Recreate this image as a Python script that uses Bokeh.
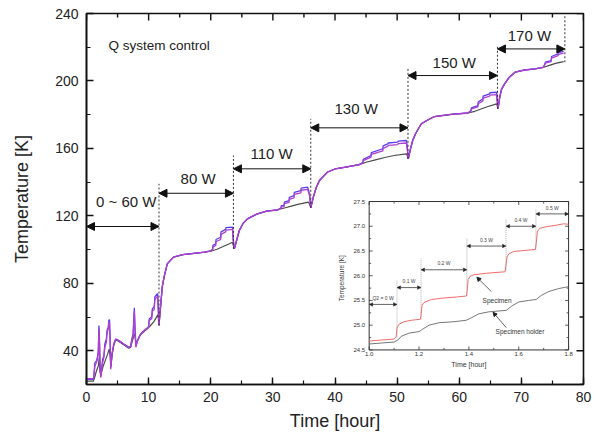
import math
from bokeh.plotting import figure
from bokeh.models import Range1d, Arrow, NormalHead, SingleIntervalTicker
from bokeh.embed import file_html
from bokeh.resources import INLINE
from bokeh.core.properties import value

FONT = "Liberation Sans"

# ---------------- main chart data (hour, K) ----------------
blue_pts = [(0, 23), (1.1, 23), (1.2, 26), (1.35, 33), (1.6, 34), (1.75, 36), (1.9, 40), (2.0, 55), (2.08, 48),
            (2.2, 30), (2.3, 25), (2.45, 30), (2.6, 35), (2.8, 37), (2.95, 44), (3.2, 47), (3.3, 52), (3.5, 54),
            (3.6, 58), (3.7, 58.5), (3.8, 48), (3.9, 30), (4.1, 38), (4.4, 44), (4.7, 47), (5.2, 46), (6.0, 44),
            (6.8, 42), (7.1, 42.5), (7.3, 47), (7.5, 50), (7.6, 58), (7.7, 65.5), (7.8, 55), (7.95, 43), (8.2, 46),
            (8.7, 50), (9.3, 52), (9.8, 53.5), (10.0, 54.5), (10.1, 59), (10.5, 60), (10.6, 65), (10.9, 66),
            (11.0, 72), (11.45, 74), (11.5, 70), (11.67, 56), (11.9, 66), (12.2, 78), (12.5, 84), (13.0, 91.5),
            (14.0, 95.5), (15.5, 97), (17.3, 97.8), (19.0, 98.5), (20.0, 99.2), (20.3, 100.4), (20.35, 102.5),
            (20.8, 103.4), (20.85, 106), (21.6, 107.3), (21.65, 110.5), (22.4, 112), (22.45, 113), (23.5, 113.3),
            (23.6, 107), (23.8, 100.4), (24.2, 106), (24.6, 111.3), (25.2, 115.5), (25.9, 118.2), (27.5, 121.2),
            (29.0, 122.8), (30.8, 123.6), (31.3, 124.8), (31.35, 126), (31.8, 126.1), (31.85, 128.2), (32.6, 129.1),
            (32.65, 131), (33.4, 132), (33.45, 134), (34.5, 135), (34.55, 136.5), (35.6, 137), (35.9, 133),
            (36.1, 124.8), (36.5, 131), (37.0, 137), (37.5, 141), (38.8, 146), (40.0, 147.8), (41.5, 148.8),
            (43.9, 150.4), (44.5, 151.8), (44.55, 153.5), (45.8, 155.8), (45.85, 157.5), (47.7, 159.8),
            (47.75, 161.5), (48.5, 162.7), (48.55, 163.2), (50.1, 163.7), (50.15, 164.3), (51.5, 164.7),
            (51.65, 160), (51.8, 153.8), (52.1, 159), (52.5, 164.7), (53.0, 169), (53.9, 174.6), (55.0, 177),
            (56.0, 178.9), (58.7, 180.2), (61.4, 181), (61.9, 182.5), (61.95, 184), (63.0, 185.4), (63.05, 187.5),
            (63.8, 189.4), (63.85, 191), (64.9, 192.4), (64.95, 193), (66.0, 193.3), (66.1, 189), (66.25, 183.5),
            (66.5, 190), (66.8, 195), (67.3, 198.3), (68.0, 202), (69.0, 205.2), (70.5, 206.5), (72.2, 207.2),
            (73.5, 208), (73.8, 210.2), (73.85, 211.2), (74.8, 212.1), (74.85, 214.5), (75.9, 216.1),
            (75.95, 216.8), (76.8, 217.5)]

purple_pts = [(0, 23.5), (1.1, 23.5), (1.2, 25), (1.35, 31), (1.6, 33), (1.75, 35), (1.9, 38), (2.0, 53), (2.08, 45),
              (2.2, 28), (2.3, 24), (2.45, 29), (2.6, 33), (2.8, 36), (2.95, 42), (3.2, 45), (3.3, 50), (3.5, 53),
              (3.6, 56.5), (3.7, 57), (3.8, 45), (3.9, 29), (4.1, 38), (4.4, 44), (4.7, 47), (5.2, 46), (6.0, 44),
              (6.8, 42), (7.1, 42.5), (7.3, 46), (7.5, 49), (7.6, 56), (7.7, 63.5), (7.8, 52), (7.95, 42), (8.2, 46),
              (8.7, 50), (9.3, 52), (9.8, 53.5), (10.0, 54), (10.1, 58), (10.5, 59), (10.6, 63.5), (10.9, 64.5),
              (11.0, 70.5), (11.45, 72.5), (11.5, 68), (11.67, 55), (11.9, 66), (12.2, 78), (12.5, 84), (13.0, 91.5),
              (14.0, 95.5), (15.5, 97), (17.3, 97.8), (19.0, 98.5), (20.0, 99.2), (20.3, 100), (20.35, 101.5),
              (20.8, 102.4), (20.85, 104.8), (21.6, 106), (21.65, 109), (22.4, 110.5), (22.45, 111.5), (23.5, 112),
              (23.6, 106), (23.8, 100.4), (24.2, 106), (24.6, 111.3), (25.2, 115.5), (25.9, 118.2), (27.5, 121.2),
              (29.0, 122.8), (30.8, 123.6), (31.3, 124.5), (31.35, 125.3), (31.8, 125.5), (31.85, 127.3),
              (32.6, 128), (32.65, 129.8), (33.4, 130.7), (33.45, 132.7), (34.5, 133.6), (34.55, 135.2),
              (35.6, 135.7), (35.9, 132), (36.1, 124.8), (36.5, 131), (37.0, 137), (37.5, 141), (38.8, 146),
              (40.0, 147.8), (41.5, 148.8), (43.9, 150.4), (44.5, 151.5), (44.55, 152.8), (45.8, 154.8),
              (45.85, 156.4), (47.7, 158.5), (47.75, 160), (48.5, 161.2), (48.55, 161.8), (50.1, 162.3),
              (50.15, 162.8), (51.5, 163.2), (51.65, 159), (51.8, 153.8), (52.1, 159), (52.5, 164.7), (53.0, 169),
              (53.9, 174.6), (55.0, 177), (56.0, 178.9), (58.7, 180.2), (61.4, 181), (61.9, 182.2), (61.95, 183.4),
              (63.0, 184.6), (63.05, 186.5), (63.8, 188.2), (63.85, 189.8), (64.9, 191), (64.95, 191.6),
              (66.0, 191.9), (66.1, 188), (66.25, 183.5), (66.5, 190), (66.8, 195), (67.3, 198.3), (68.0, 202),
              (69.0, 205.2), (70.5, 206.5), (72.2, 207.2), (73.5, 208), (73.8, 209.8), (73.85, 210.6),
              (74.8, 211.4), (74.85, 213.5), (75.9, 215), (75.95, 215.8), (76.8, 216.5)]

gray_pts = [(0, 22), (1.1, 22), (1.3, 24), (1.6, 28), (1.9, 31), (2.05, 36), (2.2, 27), (2.4, 27), (2.7, 31),
            (3.0, 34), (3.4, 38), (3.65, 41), (3.8, 37), (3.95, 31), (4.1, 37), (4.4, 43.5), (4.7, 46.5),
            (5.2, 45.5), (6.0, 43.5), (6.8, 41.5), (7.1, 42), (7.4, 46), (7.65, 49), (7.8, 50), (7.95, 44),
            (8.2, 46), (8.7, 49.5), (9.3, 51.5), (9.8, 53), (10.3, 55), (10.8, 57), (11.2, 59.5), (11.5, 61.5),
            (11.67, 55), (11.9, 64), (12.2, 78), (12.5, 84), (13.0, 91.5), (14.0, 95.5), (15.5, 97), (17.3, 97.8),
            (19.0, 98.5), (20.0, 99), (21.0, 100.2), (22.0, 101.8), (23.0, 103.5), (23.5, 104.4), (23.6, 103),
            (23.8, 100.4), (24.2, 106), (24.6, 111.3), (25.2, 115.5), (25.9, 118.2), (27.5, 121.2), (29.0, 122.8),
            (30.8, 123.6), (32.0, 124.8), (33.0, 125.8), (34.0, 126.8), (35.0, 127.6), (35.7, 128.1), (35.9, 127),
            (36.1, 124.8), (36.5, 131), (37.0, 137), (37.5, 141), (38.8, 146), (40.0, 147.8), (41.5, 148.8),
            (43.9, 150.4), (45.0, 151.8), (46.5, 153.2), (48.0, 154.6), (49.5, 155.8), (51.5, 156.8),
            (51.65, 155.5), (51.8, 153.8), (52.1, 159), (52.5, 164.7), (53.0, 169), (53.9, 174.6), (55.0, 177),
            (56.0, 178.9), (58.7, 180.2), (61.4, 181), (62.5, 182), (63.5, 183.4), (64.5, 184.7), (65.5, 185.8),
            (66.0, 186.4), (66.1, 185.5), (66.25, 183.5), (66.5, 190), (66.8, 195), (67.3, 198.3), (68.0, 202),
            (69.0, 205.2), (70.5, 206.5), (72.2, 207.2), (73.5, 208), (74.5, 209.2), (75.5, 210.4), (76.8, 211.5)]

stage_start = [0, 11.67, 23.65, 36.1, 51.75, 66.15]
stage_end = [11.67, 23.65, 36.1, 51.75, 66.15, 77.0]
stage_arrow_y = [113.7, 133.4, 147.9, 172.2, 203.2, 219.0]
stage_labels = ["0 ~ 60 W", "80 W", "110 W", "130 W", "150 W", "170 W"]
stage_label_x = [6.4, 17.96, 29.8, 43.4, 59.2, 71.3]
stage_label_y = [128.5, 142.0, 156.8, 183.5, 211.1, 227.0]
divider_x = [11.67, 23.65, 36.1, 51.75, 66.15, 77.0]
divider_bottom = [55.0, 100.4, 124.8, 153.8, 183.5, 211.1]
divider_top = [139.0, 155.8, 177.5, 207.2, 221.0, 238.8]

x_major_ticks = [0, 10, 20, 30, 40, 50, 60, 70, 80]
x_minor_ticks = [5, 15, 25, 35, 45, 55, 65, 75]
y_major_ticks = [40, 80, 120, 160, 200, 240]
y_minor_ticks = [20, 60, 100, 140, 180, 220]

# ---------------- inset data (hour, K) ----------------
specimen_pts = [(1.0, 24.68), (1.05, 24.70), (1.10, 24.72), (1.108, 24.76), (1.112, 24.95), (1.12, 25.02),
                (1.14, 25.07), (1.17, 25.10), (1.205, 25.12), (1.208, 25.2), (1.212, 25.40), (1.22, 25.46),
                (1.25, 25.52), (1.30, 25.55), (1.35, 25.57), (1.39, 25.59), (1.393, 25.7), (1.397, 25.92),
                (1.405, 25.99), (1.42, 26.02), (1.47, 26.05), (1.545, 26.08), (1.548, 26.18), (1.553, 26.38),
                (1.56, 26.44), (1.58, 26.49), (1.62, 26.51), (1.667, 26.53), (1.67, 26.65), (1.675, 26.9),
                (1.685, 26.96), (1.71, 26.99), (1.75, 27.02), (1.78, 27.05), (1.8, 27.04)]
holder_pts = [(1.0, 24.62), (1.05, 24.64), (1.10, 24.66), (1.115, 24.7), (1.13, 24.78), (1.16, 24.84),
              (1.20, 24.87), (1.215, 24.92), (1.24, 25.0), (1.28, 25.05), (1.34, 25.07), (1.39, 25.1),
              (1.41, 25.15), (1.44, 25.23), (1.48, 25.27), (1.55, 25.3), (1.57, 25.38), (1.6, 25.47),
              (1.64, 25.5), (1.67, 25.52), (1.69, 25.6), (1.72, 25.68), (1.76, 25.74), (1.8, 25.78)]
inset_x_major = [1.0, 1.2, 1.4, 1.6, 1.8]
inset_x_minor = [1.1, 1.3, 1.5, 1.7]
inset_x_labels = ["1.0", "1.2", "1.4", "1.6", "1.8"]
inset_y_major = [24.5, 25.0, 25.5, 26.0, 26.5, 27.0, 27.5]
inset_y_minor = [24.75, 25.25, 25.75, 26.25, 26.75, 27.25]
inset_y_labels = ["24.5", "25.0", "25.5", "26.0", "26.5", "27.0", "27.5"]
q_start = [1.0, 1.1116, 1.208, 1.392, 1.549, 1.669]
q_end = [1.1116, 1.208, 1.392, 1.549, 1.669, 1.8]
q_arrow_y = [25.42, 25.76, 26.12, 26.6, 27.0, 27.25]
q_labels = ["Q2 = 0 W", "0.1 W", "0.2 W", "0.3 W", "0.4 W", "0.5 W"]
q_label_y = [25.55, 25.89, 26.26, 26.73, 27.13, 27.37]
q_div_x = [1.1116, 1.208, 1.392, 1.549, 1.669]
q_div_bottom = [24.75, 25.13, 25.6, 26.1, 26.55]
q_div_top = [25.9, 26.35, 26.76, 27.15, 27.35]

# ---------------- layout ----------------
W, H = 600, 436
BL, BR, BT, BB = 86, 17, 13, 52
FW, FH = W - BL - BR, H - BT - BB
X0, X1, Y0, Y1 = 0, 80, 20, 240
mdx = (X1 - X0) / FW   # main units per pixel
mdy = (Y1 - Y0) / FH

p = figure(width=W, height=H, x_range=Range1d(X0, X1), y_range=Range1d(Y0, Y1),
           output_backend="svg", toolbar_location=None,
           min_border_left=BL, min_border_right=BR, min_border_top=BT, min_border_bottom=BB,
           x_axis_label="Time [hour]", y_axis_label="Temperature [K]")
p.xgrid.visible = False
p.ygrid.visible = False
p.outline_line_color = "#111111"
p.outline_line_width = 1.6
p.background_fill_color = "white"
p.border_fill_color = "white"

bottom_ax = p.below[0]
left_ax = p.left[0]
bottom_ax.ticker = SingleIntervalTicker(interval=10, num_minor_ticks=2)
left_ax.ticker = SingleIntervalTicker(interval=40, num_minor_ticks=2)
for ax in [bottom_ax, left_ax]:
    ax.axis_line_width = 1.6
    ax.axis_line_color = "#111111"
    ax.major_tick_in = 7
    ax.major_tick_out = 0
    ax.minor_tick_in = 4
    ax.minor_tick_out = 0
    ax.major_tick_line_width = 1.4
    ax.minor_tick_line_width = 1.2
    ax.major_tick_line_color = "#111111"
    ax.minor_tick_line_color = "#111111"
    ax.major_label_text_font = FONT
    ax.major_label_text_font_size = "14px"
    ax.major_label_text_color = "#222222"
    ax.axis_label_text_font = FONT
    ax.axis_label_text_font_size = "18px"
    ax.axis_label_text_font_style = "normal"
    ax.axis_label_text_color = "#222222"
bottom_ax.major_label_standoff = 7
bottom_ax.axis_label_standoff = 6
left_ax.major_label_standoff = 8
left_ax.axis_label_standoff = 20

# mirrored inward ticks on the top and right edges
for vals, ln in [(x_major_ticks, 7), (x_minor_ticks, 4)]:
    p.segment(x0=vals, x1=vals, y0=[Y1] * len(vals), y1=[Y1 - ln * mdy] * len(vals),
              line_color="#111111", line_width=1.4)
for vals, ln in [(y_major_ticks, 7), (y_minor_ticks, 4)]:
    p.segment(y0=vals, y1=vals, x0=[X1] * len(vals), x1=[X1 - ln * mdx] * len(vals),
              line_color="#111111", line_width=1.4)

# ---------------- main curves ----------------
def split(pts):
    return [a for a, _ in pts], [b for _, b in pts]

gh, gt = split(gray_pts)
bh, bt = split(blue_pts)
ph, pt = split(purple_pts)
p.line(gh, gt, line_color="#4b4b4b", line_width=1.2)
p.line(bh, bt, line_color="#5a3cf0", line_width=1.3)
p.line(ph, pt, line_color="#b03fcf", line_width=1.3)

p.segment(x0=divider_x, y0=divider_bottom, x1=divider_x, y1=divider_top,
          line_color="#333333", line_width=1, line_dash="2 2")

for xs, xe, yy in zip(stage_start, stage_end, stage_arrow_y):
    p.add_layout(Arrow(x_start=xs, y_start=yy, x_end=xe, y_end=yy, line_width=1, line_color="#111111",
                       start=NormalHead(size=8, fill_color="#111111", line_color="#111111"),
                       end=NormalHead(size=8, fill_color="#111111", line_color="#111111")))

p.text(x=stage_label_x, y=stage_label_y, text=stage_labels, text_font=value(FONT),
       text_font_size=value("15px"), text_align="center", text_baseline="middle", text_color="#222222")
p.text(x=[3.55], y=[221], text=["Q system control"], text_font=value(FONT),
       text_font_size=value("13.5px"), text_align="left", text_baseline="middle", text_color="#222222")

# ---------------- inset (own scales mapped into a box of the main frame) ----------------
BOX_L, BOX_R, BOX_B, BOX_T = 45.5, 77.6, 40.5, 128.5   # inset frame location in main units
IX0, IX1, IY0, IY1 = 1.0, 1.8, 24.5, 27.5
sx = (IX1 - IX0) / (BOX_R - BOX_L)
sy = (IY1 - IY0) / (BOX_T - BOX_B)
p.extra_x_ranges = {"ix": Range1d(IX0 - (BOX_L - X0) * sx, IX1 + (X1 - BOX_R) * sx)}
p.extra_y_ranges = {"iy": Range1d(IY0 - (BOX_B - Y0) * sy, IY1 + (Y1 - BOX_T) * sy)}
dx = sx * mdx   # inset units per pixel
dy = sy * mdy
R = dict(x_range_name="ix", y_range_name="iy")

p.quad(left=[IX0], right=[IX1], bottom=[IY0], top=[IY1], fill_color="white",
       line_color="#333333", line_width=1, **R)

def ticks(vals, ln, horizontal):
    if horizontal:
        return dict(x0=vals * 2, x1=vals * 2,
                    y0=[IY0] * len(vals) + [IY1] * len(vals),
                    y1=[IY0 + ln * dy] * len(vals) + [IY1 - ln * dy] * len(vals))
    return dict(y0=vals * 2, y1=vals * 2,
                x0=[IX0] * len(vals) + [IX1] * len(vals),
                x1=[IX0 + ln * dx] * len(vals) + [IX1 - ln * dx] * len(vals))

for vals, ln, hz in [(inset_x_major, 3.5, True), (inset_x_minor, 2, True),
                     (inset_y_major, 3.5, False), (inset_y_minor, 2, False)]:
    p.segment(line_color="#333333", line_width=0.8, **ticks(vals, ln, hz), **R)

p.text(x=inset_x_major, y=[IY0 - 2.5 * dy] * len(inset_x_major), text=inset_x_labels,
       text_font=value(FONT), text_font_size=value("6px"), text_align="center", text_baseline="top",
       text_color="#333333", **R)
p.text(x=[IX0 - 4 * dx] * len(inset_y_major), y=inset_y_major, text=inset_y_labels,
       text_font=value(FONT), text_font_size=value("6px"), text_align="right", text_baseline="middle",
       text_color="#333333", **R)
p.text(x=[1.4], y=[IY0 - 11.5 * dy], text=["Time [hour]"], text_font=value(FONT),
       text_font_size=value("7px"), text_align="center", text_baseline="top", text_color="#333333", **R)
p.text(x=[IX0 - 28 * dx], y=[25.95], text=["Temperature [K]"], text_font=value(FONT), angle=math.pi / 2,
       text_font_size=value("6.5px"), text_align="center", text_baseline="middle", text_color="#333333", **R)

hh, ht = split(holder_pts)
sh, st = split(specimen_pts)
p.line(hh, ht, line_color="#666666", line_width=0.9, **R)
p.line(sh, st, line_color="#f05a5a", line_width=0.9, **R)

p.segment(x0=q_div_x, y0=q_div_bottom, x1=q_div_x, y1=q_div_top, line_color="#999999",
          line_width=0.8, line_dash="1 1", **R)
for xs, xe, yy in zip(q_start, q_end, q_arrow_y):
    p.add_layout(Arrow(x_start=xs, y_start=yy, x_end=xe, y_end=yy, line_width=0.7, line_color="#222222",
                       start=NormalHead(size=3.5, fill_color="#222222", line_color="#222222", line_width=0.5),
                       end=NormalHead(size=3.5, fill_color="#222222", line_color="#222222", line_width=0.5),
                       **R))
p.text(x=[(a + b) / 2 for a, b in zip(q_start, q_end)], y=q_label_y, text=q_labels, text_font=value(FONT),
       text_font_size=value("5px"), text_align="center", text_baseline="middle", text_color="#444444", **R)

p.add_layout(Arrow(x_start=1.49, y_start=25.68, x_end=1.432, y_end=25.97, line_width=0.7, line_color="#222222",
                   start=None, end=NormalHead(size=4, fill_color="#222222", line_color="#222222"), **R))
p.add_layout(Arrow(x_start=1.55, y_start=24.95, x_end=1.497, y_end=25.26, line_width=0.7, line_color="#222222",
                   start=None, end=NormalHead(size=4, fill_color="#222222", line_color="#222222"), **R))
p.text(x=[1.513, 1.605], y=[25.5, 24.87], text=["Specimen", "Specimen holder"], text_font=value(FONT),
       text_font_size=value("6.5px"), text_align="center", text_baseline="middle", text_color="#333333", **R)

open("out.html", "w").write(file_html(p, INLINE))
